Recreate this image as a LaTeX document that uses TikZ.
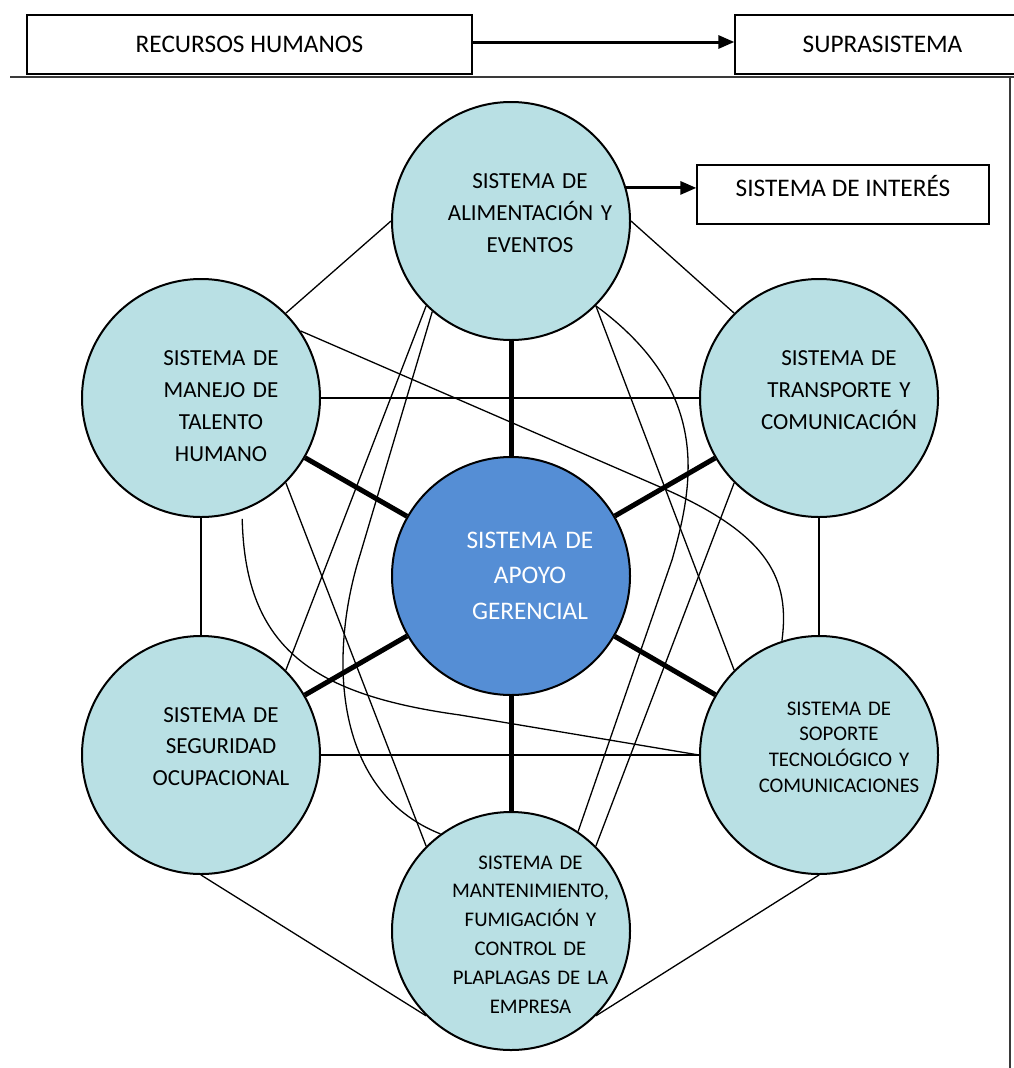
\documentclass[tikz,border=0pt]{standalone}
\usepackage{fontspec}
\setmainfont{Carlito}
\usetikzlibrary{arrows.meta}
\definecolor{sysfill}{HTML}{B9E0E4}
\definecolor{corefill}{HTML}{558ED5}
\definecolor{framegray}{HTML}{3A3A3A}

\begin{document}
\begin{tikzpicture}[x=1pt,y=-1pt,
  sys/.style={circle, draw=black, line width=2pt, fill=sysfill, minimum size=238pt, inner sep=0pt},
  core/.style={sys, fill=corefill},
  lbl/.style={text width=280pt, align=center, inner sep=0pt, anchor=base},
  lblA/.style={lbl, font=\fontsize{23}{32}\selectfont},
  lblB/.style={lbl, font=\fontsize{20.8}{28.8}\selectfont},
  headbox/.style={draw=black, line width=1.3pt, minimum height=59pt, inner sep=0pt,
                  text height=16pt, text depth=0pt, font=\fontsize{25.3}{30}\selectfont},
  link/.style={line width=1.3pt},
  spoke/.style={line width=5pt},
  flow/.style={line width=3pt, -{Triangle[length=16pt,width=13pt]}},
  frameline/.style={draw=framegray, line width=1.6pt}
]
\useasboundingbox (0,0) rectangle (1014,1068);
\clip (0,0) rectangle (1014,1068);

% header boxes
\node[headbox, minimum width=445pt] (rh) at (249.5,44.5) {RECURSOS HUMANOS};
\node[headbox, minimum width=295pt] (sup) at (882.5,44.5) {SUPRASISTEMA};
\draw[flow] ([yshift=2.5pt]rh.east) -- ([yshift=2.5pt]sup.west);

% frame under the header
\draw[frameline] (10,77) -- (1014,77);
\draw[frameline] (1010,77) -- (1010,1068);

% systems
\node[core] (core) at (511,576) {};
\node[sys] (alim) at (511,221) {};
\node[sys] (tal)  at (201,398) {};
\node[sys] (tra)  at (819,398) {};
\node[sys] (seg)  at (201,755) {};
\node[sys] (sop)  at (819,755) {};
\node[sys] (man)  at (511,931) {};

% system of interest
\node[headbox, minimum width=292pt, text depth=12pt] (int) at (843,194.5) {SISTEMA DE INTERÉS};
\draw[flow] (alim.16) -- (alim.16 -| int.west);

% spokes from the management support system
\foreach \n in {alim,tal,tra,seg,sop,man}
  \draw[spoke] (core) -- (\n);

% outer ring
\draw[link] (alim.180) -- (tal.45);
\draw[link] (alim.0) -- (tra.135);
\draw[link] (tal.south) -- (seg.north);
\draw[link] (tra.south) -- (sop.north);
\draw[link] (seg.south) -- (man.225);
\draw[link] (sop.south) -- (man.315);
\draw[link] (tal.east) -- (tra.west);
\draw[link] (seg.east) -- (sop.west);

% cross relations
\draw[link] (alim.225) -- (seg.45);
\draw[link] (alim.229) -- (360,555) .. controls (330,650) and (330,790) .. (man.126);
\draw[link] (tal.315) -- (man.135);
\draw[link] (alim.315) -- (sop.135);
\draw[link] (alim.315) .. controls (710,390) and (695,480) .. (672,560) -- (man.56);
\draw[link] (tra.225) -- (man.45);
\draw[link] (tal.34) -- (667,490) .. controls (770,536) and (790,580) .. (sop.108);
\draw[link, shorten <=8pt] (tal.290) .. controls (245,650) and (315,695) .. (460,715) -- (sop.180);

% labels
\node[lblA] (alimtxt) at (530,188) {SISTEMA DE\\ALIMENTACIÓN Y\\EVENTOS};
\node[lbl, font=\fontsize{23}{32.3}\selectfont] (taltxt) at (221,365) {SISTEMA DE\\MANEJO DE\\TALENTO\\HUMANO};
\node[lblA] (tratxt) at (839,365) {SISTEMA DE\\TRANSPORTE Y\\COMUNICACIÓN};
\node[lbl, text=white, font=\fontsize{25.3}{35.5}\selectfont] (coretxt) at (530,548) {SISTEMA DE\\APOYO\\GERENCIAL};
\node[lbl, font=\fontsize{23}{31.7}\selectfont] (segtxt) at (221,722) {SISTEMA DE\\SEGURIDAD\\OCUPACIONAL};
\node[lbl, font=\fontsize{20.8}{25.7}\selectfont] (soptxt) at (839,715) {SISTEMA DE\\SOPORTE\\TECNOLÓGICO Y\\COMUNICACIONES};
\node[lblB] (mantxt) at (530.5,869) {SISTEMA DE\\MANTENIMIENTO,\\FUMIGACIÓN Y\\CONTROL DE\\PLAPLAGAS DE LA\\EMPRESA};
\end{tikzpicture}
\end{document}
